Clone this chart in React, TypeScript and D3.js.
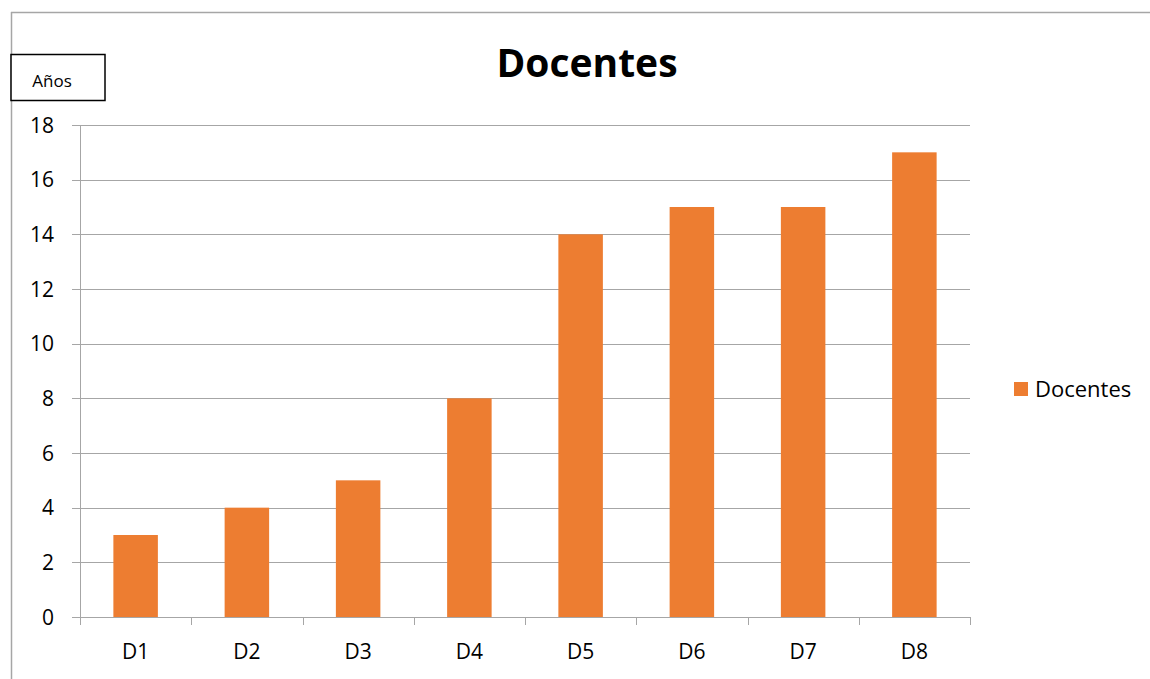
import React from "react";
import * as d3 from "d3";

const categories = ["D1", "D2", "D3", "D4", "D5", "D6", "D7", "D8"];
const values = [3, 4, 5, 8, 14, 15, 15, 17];
const yTicks = [0, 2, 4, 6, 8, 10, 12, 14, 16, 18];
const seriesName = "Docentes";
const title = "Docentes";
const yTitle = "Años";

const W = 1150;
const H = 679;
const FONT = "'Open Sans', 'Liberation Sans', sans-serif";
const GRID = "#a6a6a6";
const BAR = "#ED7D31";

export default function App() {
  const left = 80, right = 970, top = 125, bottom = 617;
  const x = d3.scaleBand<string>().domain(categories).range([left, right]).paddingInner(0.6).paddingOuter(0.3);
  const xb = d3.scaleBand<string>().domain(categories).range([left, right]).padding(0);
  const y = d3.scaleLinear().domain([0, 18]).range([bottom, top]);
  const boundaries = d3.range(categories.length + 1).map((i) => left + (i * (right - left)) / categories.length);

  return (
    <svg width={W} height={H} style={{ position: "absolute", left: 0, top: 0, background: "#fff" }}>
      <rect x={0} y={0} width={W} height={H} fill="#fff" />
      {/* outer frame */}
      <line x1={11} y1={12.5} x2={W} y2={12.5} stroke={GRID} strokeWidth={1.5} />
      <line x1={11.5} y1={12} x2={11.5} y2={H} stroke={GRID} strokeWidth={1.5} />

      {/* gridlines */}
      {yTicks.map((t) => (
        <g key={t}>
          <line x1={72} x2={right} y1={Math.round(y(t)) + 0.5} y2={Math.round(y(t)) + 0.5} stroke={GRID} strokeWidth={1} />
          <text x={54} y={y(t)} dy="0.36em" textAnchor="end" fontFamily={FONT} fontSize={21} fill="#000">
            {t}
          </text>
        </g>
      ))}
      {/* y axis */}
      <line x1={left + 0.5} x2={left + 0.5} y1={top} y2={bottom + 8} stroke={GRID} strokeWidth={1} />
      {/* x category ticks */}
      {boundaries.map((b, i) => (
        <line key={i} x1={Math.round(b) + 0.5} x2={Math.round(b) + 0.5} y1={bottom} y2={bottom + 8} stroke={GRID} strokeWidth={1} />
      ))}

      {/* bars */}
      {categories.map((c, i) => (
        <rect key={c} x={x(c)} y={y(values[i])} width={x.bandwidth()} height={y(0) - y(values[i])} fill={BAR} />
      ))}

      {/* x labels */}
      {categories.map((c) => (
        <text key={c} x={(xb(c) as number) + xb.bandwidth() / 2} y={651} dy="0.36em" textAnchor="middle" fontFamily={FONT} fontSize={21} fill="#000">
          {c}
        </text>
      ))}

      {/* title */}
      <text x={587} y={77} textAnchor="middle" fontFamily={FONT} fontSize={39} fontWeight="bold" fill="#000">
        {title}
      </text>

      {/* y title box */}
      <rect x={11} y={54.5} width={94} height={46} fill="#fff" stroke="#000" strokeWidth={1.5} />
      <text x={52} y={87} textAnchor="middle" fontFamily={FONT} fontSize={17} fill="#000">
        {yTitle}
      </text>

      {/* legend */}
      <rect x={1014} y={382} width={14} height={14} fill={BAR} />
      <text x={1035} y={389} dy="0.36em" fontFamily={FONT} fontSize={22} fill="#000">
        {seriesName}
      </text>
    </svg>
  );
}
